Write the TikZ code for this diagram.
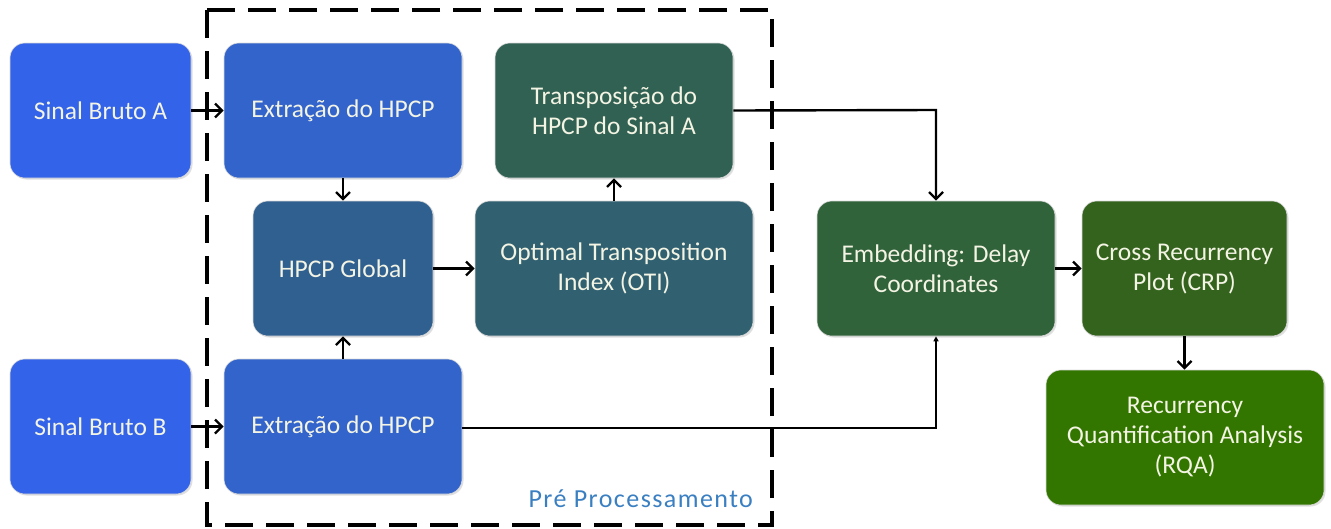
\documentclass[tikz,border=0pt]{standalone}
\usepackage{fontspec}
\setmainfont{Carlito}
\usetikzlibrary{arrows.meta,shadows}
\definecolor{cA}{HTML}{3363E8}
\definecolor{cB}{HTML}{3264CC}
\definecolor{cG}{HTML}{2F6090}
\definecolor{cO}{HTML}{316171}
\definecolor{cT}{HTML}{316153}
\definecolor{cE}{HTML}{31633B}
\definecolor{cC}{HTML}{34631E}
\definecolor{cR}{HTML}{327600}
\definecolor{cL}{HTML}{3A7FC1}
\definecolor{cTx}{HTML}{F4F4E4}
\newcommand{\boxfont}{\fontsize{25.5}{30}\selectfont}
\tikzset{
  x=1pt,y=-1pt,
  box/.style={draw=white!85!black,line width=0.6pt,rounded corners=15pt,inner sep=0pt,
    drop shadow={shadow xshift=1.5pt,shadow yshift=-1.5pt,opacity=0.25}},
  lab/.style={text=cTx,align=center,font=\boxfont},
  conn/.style={line width=2.4pt,-{Straight Barb[length=7pt,width=14pt,line width=2.4pt]}},
}
\newcommand{\bx}[6]{\node[box,fill=#5,minimum width={#3-#1},minimum height={#4-#2}] (#6) at ({(#1+#3)/2},{(#2+#4)/2}) {};}
\begin{document}
\begin{tikzpicture}
\useasboundingbox (0,0) rectangle (1331,528);
\draw[line width=3.4pt,dash pattern=on 28pt off 13pt] (207,10) rectangle (772,525);
\node[text=cL,anchor=base east,inner sep=0pt,font=\fontsize{26}{30}\selectfont\addfontfeature{LetterSpace=5.5}] (lbl) at (753,507) {Pré Processamento};

\bx{10}{43}{191}{178}{cA}{sa}
\bx{224}{43}{462}{178}{cB}{ea}
\bx{253}{201}{433}{336}{cG}{hg}
\bx{475}{201}{753}{336}{cO}{oti}
\bx{495}{43}{733}{178}{cT}{tr}
\bx{817}{201}{1055}{336}{cE}{emb}
\bx{1082}{201}{1287}{336}{cC}{crp}
\bx{1046}{370}{1324}{505}{cR}{rqa}
\bx{10}{359}{191}{494}{cA}{sb}
\bx{224}{359}{462}{494}{cB}{eb}

\node[lab] at (sa) {Sinal Bruto A};
\node[lab] at (ea) {Extração do HPCP};
\node[lab] at (hg) {HPCP Global};
\node[lab] at (oti) {Optimal Transposition\\Index (OTI)};
\node[lab] at (tr) {Transposição do\\HPCP do Sinal A};
\node[lab] at (emb) {Embedding: Delay\\Coordinates};
\node[lab] at (crp) {Cross Recurrency\\Plot (CRP)};
\node[lab] at (rqa) {Recurrency\\Quantification Analysis\\(RQA)};
\node[lab] at (sb) {Sinal Bruto B};
\node[lab] at (eb) {Extração do HPCP};

\draw[conn] (sa.east) -- (ea.west);
\draw[conn] (sb.east) -- (eb.west);
\draw[conn] (ea.south -| hg.north) -- (hg.north);
\draw[conn] (eb.north -| hg.south) -- (hg.south);
\draw[conn] (hg.east) -- (oti.west);
\draw[conn] (oti.north -| tr.south) -- (tr.south);
\coordinate (k1) at (936,110);
\coordinate (k2) at (936,428);
\draw[conn] (tr.east) -- (k1) -- (k1 |- emb.north);
\draw[line width=2.4pt,-{Triangle[length=5pt,width=5pt]}] (eb.east |- k2) -- (k2) -- (k2 |- emb.south);
\draw[conn] (emb.east) -- (crp.west);
\draw[conn] (crp.south) -- (crp.south |- rqa.north);
\end{tikzpicture}
\end{document}
